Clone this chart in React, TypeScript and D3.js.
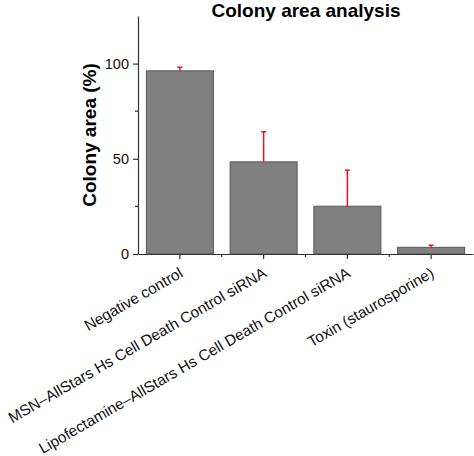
import { useEffect, useRef } from "react";
import * as d3 from "d3";

const categories = [
  "Negative control",
  "MSN–AllStars Hs Cell Death Control siRNA",
  "Lipofectamine–AllStars Hs Cell Death Control siRNA",
  "Toxin (staurosporine)",
];
const values = [96.2, 48.4, 25.1, 3.5];
const errors = [1.9, 15.8, 18.9, 1.1];
const majorTicks = [0, 50, 100];
const minorTicks = [25, 75];

export default function App() {
  const svgRef = useRef<SVGSVGElement | null>(null);

  useEffect(() => {
    const width = 474;
    const height = 456;
    const margin = { top: 16, right: 1, bottom: 202, left: 138 };
    const innerW = width - margin.left - margin.right;
    const innerH = height - margin.top - margin.bottom;
    const font = "'Liberation Sans', Arial, sans-serif";

    const svg = d3.select(svgRef.current).attr("width", width).attr("height", height);
    svg.selectAll("*").remove();
    svg.append("rect").attr("width", width).attr("height", height).attr("fill", "#fff");

    const g = svg.append("g").attr("transform", `translate(${margin.left},${margin.top})`);

    const x = d3.scaleBand<string>().domain(categories).range([0, innerW]).paddingInner(0.2).paddingOuter(0.1);
    const y = d3.scaleLinear().domain([0, 125]).range([innerH, 0]);

    // bars
    g.selectAll(".bar")
      .data(categories)
      .join("rect")
      .attr("class", "bar")
      .attr("x", d => x(d)!)
      .attr("width", x.bandwidth())
      .attr("y", (d, i) => y(values[i]))
      .attr("height", (d, i) => innerH - y(values[i]))
      .attr("fill", "#808080")
      .attr("stroke", "#555")
      .attr("stroke-width", 1);

    // error bars (upper only)
    const err = g.selectAll(".err").data(categories).join("g").attr("class", "err");
    err.append("line")
      .attr("x1", d => x(d)! + x.bandwidth() / 2)
      .attr("x2", d => x(d)! + x.bandwidth() / 2)
      .attr("y1", (d, i) => y(values[i]))
      .attr("y2", (d, i) => y(values[i] + errors[i]))
      .attr("stroke", "#e8141c")
      .attr("stroke-width", 1.5);
    err.append("line")
      .attr("x1", d => x(d)! + x.bandwidth() / 2 - 2.5)
      .attr("x2", d => x(d)! + x.bandwidth() / 2 + 2.5)
      .attr("y1", (d, i) => y(values[i] + errors[i]))
      .attr("y2", (d, i) => y(values[i] + errors[i]))
      .attr("stroke", "#e8141c")
      .attr("stroke-width", 1.5);

    // y axis
    const yAxis = g.append("g")
      .call(d3.axisLeft(y).tickValues(majorTicks).tickSize(5).tickPadding(4).tickSizeOuter(0));
    yAxis.select(".domain").attr("stroke", "#333").attr("stroke-width", 1.2);
    yAxis.selectAll(".tick line").attr("stroke", "#333").attr("stroke-width", 1.2);
    yAxis.selectAll("text").style("font-size", "14.5px").style("font-family", font).attr("fill", "#111");
    g.append("g").selectAll("line").data(minorTicks).join("line")
      .attr("x1", -3).attr("x2", 0)
      .attr("y1", d => y(d)).attr("y2", d => y(d))
      .attr("stroke", "#333").attr("stroke-width", 1.2);

    // x axis
    const xAxis = g.append("g")
      .attr("transform", `translate(0,${innerH})`)
      .call(d3.axisBottom(x).tickSize(5).tickSizeOuter(0).tickFormat(() => ""));
    xAxis.select(".domain").attr("stroke", "#333").attr("stroke-width", 1.2);
    xAxis.selectAll(".tick line").attr("stroke", "#333").attr("stroke-width", 1.2);
    const bounds = categories.slice(1).map(c => x(c)! - (x.step() - x.bandwidth()) / 2);
    xAxis.append("g").selectAll("line").data(bounds).join("line")
      .attr("x1", d => d).attr("x2", d => d)
      .attr("y1", 0).attr("y2", 3)
      .attr("stroke", "#333").attr("stroke-width", 1.2);

    // category labels
    g.append("g").selectAll("text").data(categories).join("text")
      .attr("transform", d => `translate(${x(d)! + x.bandwidth() / 2 + 4},${innerH + 22}) rotate(-30)`)
      .attr("text-anchor", "end")
      .style("font-size", "15.3px")
      .style("font-family", font)
      .attr("fill", "#111")
      .text(d => d);

    // y title
    svg.append("text")
      .attr("transform", `translate(96,${margin.top + y(62.5)}) rotate(-90)`)
      .attr("text-anchor", "middle")
      .style("font-size", "19px")
      .style("font-weight", "bold")
      .style("font-family", font)
      .text("Colony area (%)");

    // title
    svg.append("text")
      .attr("x", 306)
      .attr("y", 17)
      .attr("text-anchor", "middle")
      .style("font-size", "19px")
      .style("font-weight", "bold")
      .style("font-family", font)
      .text("Colony area analysis");
  }, []);

  return (
    <div style={{ position: "absolute", left: 0, top: 0 }}>
      <svg ref={svgRef} style={{ display: "block" }}></svg>
    </div>
  );
}
